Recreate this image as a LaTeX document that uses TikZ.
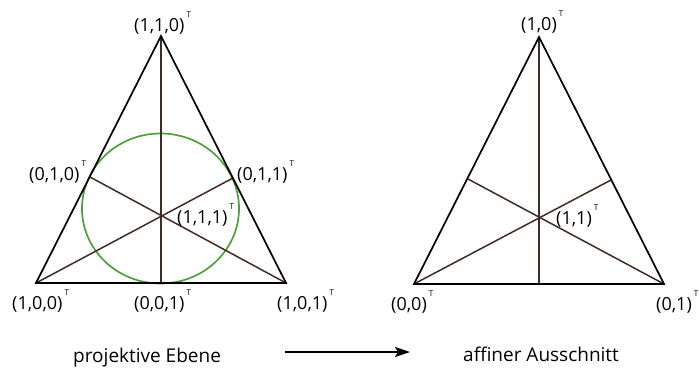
\documentclass[tikz,border=0pt]{standalone}
\usepackage{fontspec}
\setmainfont{Open Sans}
\usetikzlibrary{arrows.meta}
\definecolor{brn}{RGB}{64,44,34}
\definecolor{grn}{RGB}{78,160,58}
\newcommand\supT{\kern2pt\raisebox{14pt}{\fontsize{8}{8}\selectfont T}}
\begin{document}
\begin{tikzpicture}[x=1pt,y=-1pt,
  side/.style={line width=1.7pt, black, line join=miter},
  inner/.style={line width=1.5pt, brn},
  ring/.style={line width=1.7pt, grn},
  lbl/.style={font=\fontsize{18}{18}\selectfont, inner sep=0pt, anchor=base west},
  capt/.style={font=\fontsize{19}{19}\selectfont, inner sep=0pt, anchor=base west},
  arr/.style={line width=1.6pt, -{Stealth[length=15pt,width=10pt,inset=3pt]}}]
\useasboundingbox (0,0) rectangle (699,367);
% left triangle
\coordinate (A) at (161,36);
\coordinate (B) at (36,283);
\coordinate (C) at (286,283);
\coordinate (M) at (161,283);
\coordinate (P) at (90,177);
\coordinate (Q) at (233,178);
\coordinate (O) at (160.5,208.5);
\draw[ring] (O) ellipse [x radius=78.5pt, y radius=75pt];
\draw[inner] (A) -- (M);
\draw[inner] (P) -- (C);
\draw[inner] (B) -- (Q);
\draw[side] (A) -- (B) -- (C) -- cycle;
% right triangle
\coordinate (A2) at (539,37);
\coordinate (B2) at (414,284);
\coordinate (C2) at (664,284);
\coordinate (M2) at (539,284);
\coordinate (P2) at (468,179);
\coordinate (Q2) at (611,180);
\draw[inner] (A2) -- (M2);
\draw[inner] (P2) -- (C2);
\draw[inner] (B2) -- (Q2);
\draw[side] (A2) -- (B2) -- (C2) -- cycle;
% labels left
\node[lbl] (l110) at (134,31) {(1,1,0)\supT};
\node[lbl] (l010) at (29,180) {(0,1,0)\supT};
\node[lbl] (l011) at (237,180) {(0,1,1)\supT};
\node[lbl] (l111) at (177,223) {(1,1,1)\supT};
\node[lbl] (l100) at (12,309) {(1,0,0)\supT};
\node[lbl] (l001) at (134,309) {(0,0,1)\supT};
\node[lbl] (l101) at (277,309) {(1,0,1)\supT};
% labels right
\node[lbl] (r10) at (521,30) {(1,0)\supT};
\node[lbl] (r11) at (556,224) {(1,1)\supT};
\node[lbl] (r00) at (391,310) {(0,0)\supT};
\node[lbl] (r01) at (656,310) {(0,1)\supT};
% captions
\node[capt] (cl) at (73,362) {projektive Ebene};
\node[capt] (cr) at (463,361) {affiner Ausschnitt};
\coordinate (S) at (285,352);
\coordinate (E) at (410,352);
\draw[arr] (S) -- (E);
\end{tikzpicture}
\end{document}
